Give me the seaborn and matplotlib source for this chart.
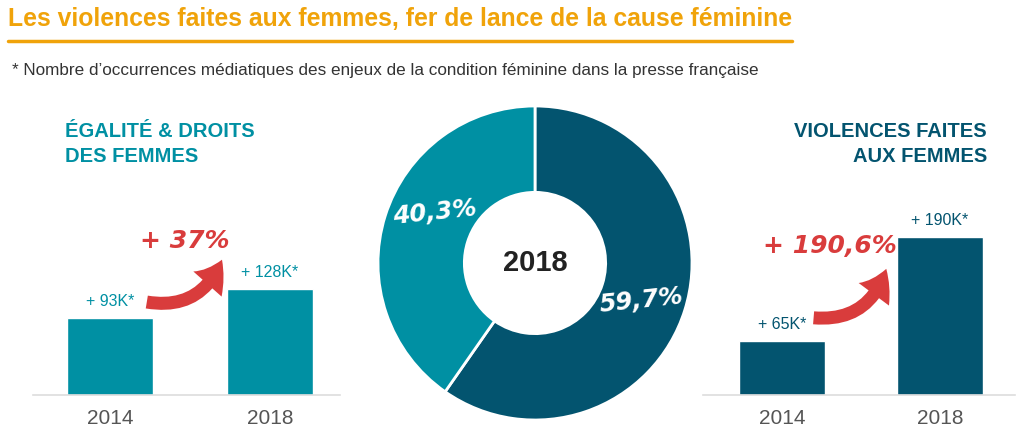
import matplotlib
matplotlib.use("Agg")
import matplotlib.pyplot as plt
import seaborn as sns
import pandas as pd
from matplotlib.lines import Line2D

# data
years = ["2014", "2018"]
egalite_k = [93, 128]
violences_k = [65, 190]
egalite_labels = ["+ 93K*", "+ 128K*"]
violences_labels = ["+ 65K*", "+ 190K*"]
share_2018 = [59.7, 40.3]
share_labels = ["59,7%", "40,3%"]

teal = "#0090A3"
navy = "#03546F"
orange = "#F0A30A"
red = "#D93C3C"

sns.set_theme(style="white")
plt.rcParams["font.family"] = ["Liberation Sans", "DejaVu Sans"]

W, H = 1024, 446
fig = plt.figure(figsize=(W / 100, H / 100), dpi=100)


def px_axes(x0, y0, x1, y1):
    # pixel box (top-left origin) -> axes
    return fig.add_axes([x0 / W, 1 - y1 / H, (x1 - x0) / W, (y1 - y0) / H])


# title + rule
fig.text(8 / W, 1 - 19 / H, "Les violences faites aux femmes, fer de lance de la cause féminine",
         color=orange, fontsize=17.8, fontweight="bold", va="center", ha="left")
fig.add_artist(Line2D([8 / W, 792 / W], [1 - 41 / H, 1 - 41 / H], color=orange, lw=2.5))
fig.text(12 / W, 1 - 71 / H,
         "* Nombre d\u2019occurrences médiatiques des enjeux de la condition féminine dans la presse française",
         color="#333333", fontsize=12.3, va="center", ha="left")

ymax = 240
scale = 0.83


def bar_panel(x0, x1, c0, c1, vals, labels, color, arrow_from, arrow_to, pct, pct_xy):
    top = 395 - ymax * scale
    ax = px_axes(x0, top, x1, 395)
    df = pd.DataFrame({"year": years, "val": vals})
    sns.barplot(data=df, x="year", y="val", color=color, saturation=1, width=0.54, ax=ax)
    unit = c1 - c0
    ax.set_xlim(-(c0 - x0) / unit, 1 + (x1 - c1) / unit)
    ax.set_ylim(0, ymax)
    ax.set_xlabel("")
    ax.set_ylabel("")
    ax.set_yticks([])
    for s in ["top", "left", "right"]:
        ax.spines[s].set_visible(False)
    ax.spines["bottom"].set_color("#dddddd")
    ax.spines["bottom"].set_linewidth(1.2)
    ax.tick_params(axis="x", length=0, pad=10, labelsize=15, labelcolor="#555555")
    for i, (v, lab) in enumerate(zip(vals, labels)):
        ax.text(i, v + 11, lab, ha="center", va="bottom", color=color, fontsize=11.5)
    ax.annotate("", xy=arrow_to, xytext=arrow_from,
                arrowprops=dict(arrowstyle="simple,head_length=1.2,head_width=1.6,tail_width=0.55",
                                connectionstyle="arc3,rad=0.4", color=red, lw=0,
                                shrinkA=0, shrinkB=0, mutation_scale=17))
    ax.text(pct_xy[0], pct_xy[1], pct, ha="center", va="center", color=red,
            fontsize=18, fontweight="bold", style="italic", family=["DejaVu Sans"])
    return ax


bar_panel(33, 340, 110, 270, egalite_k, egalite_labels, teal,
          (0.23, 112), (0.7, 163), "+ 37%", (0.47, 186))
bar_panel(703, 1015, 782, 940, violences_k, violences_labels, navy,
          (0.2, 93), (0.66, 152), "+ 190,6%", (0.3, 180))

# headers
fig.text(65 / W, 1 - 144 / H, "ÉGALITÉ & DROITS\nDES FEMMES", color=teal, fontsize=14.5,
         fontweight="bold", ha="left", va="center", linespacing=1.45)
fig.text(987 / W, 1 - 144 / H, "VIOLENCES FAITES\nAUX FEMMES", color=navy, fontsize=14.5,
         fontweight="bold", ha="right", va="center", linespacing=1.45, multialignment="right")

# donut
R = 157
axd = px_axes(535 - R, 263 - R, 535 + R, 263 + R)
wedges, _ = axd.pie(share_2018, colors=[navy, teal], startangle=90, counterclock=False,
                    radius=1, wedgeprops=dict(width=0.55, edgecolor="white", linewidth=2))
axd.set_aspect("equal")
axd.set_xlim(-1, 1)
axd.set_ylim(-1, 1)
axd.text(0, 0, "2018", ha="center", va="center", fontsize=21, fontweight="bold", color="#222222")
axd.text(0.68, -0.24, share_labels[0], ha="center", va="center", color="white",
         fontsize=17.5, fontweight="bold", style="italic", family=["DejaVu Sans"], rotation=6)
axd.text(-0.64, 0.32, share_labels[1], ha="center", va="center", color="white",
         fontsize=17.5, fontweight="bold", style="italic", family=["DejaVu Sans"], rotation=6)

fig.savefig("out.png", dpi=100)
